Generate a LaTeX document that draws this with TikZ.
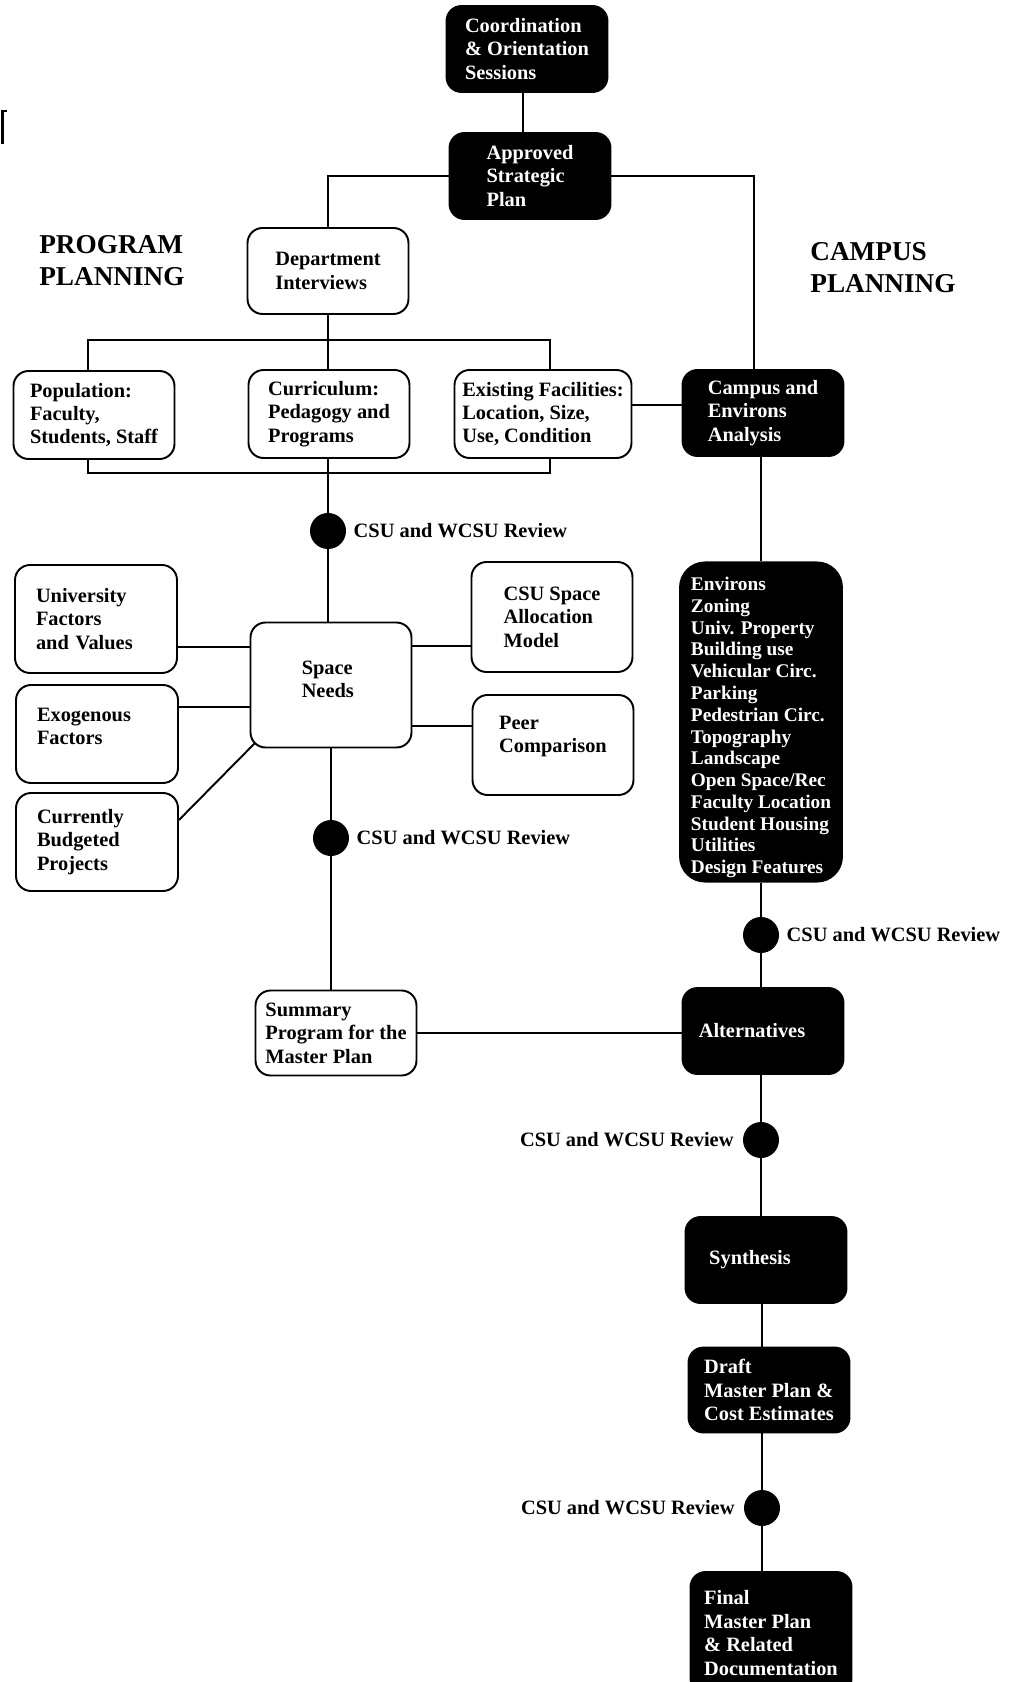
\documentclass[tikz,border=0pt]{standalone}
\usepackage{fontspec}
\setmainfont{Liberation Serif}
\usepackage{tikz}
\usetikzlibrary{positioning, calc}
\definecolor{InkBlack}{HTML}{000000}
\newcommand{\boxfont}{\fontsize{11.6pt}{13.3pt}\selectfont\bfseries}
\newcommand{\listfont}{\fontsize{11pt}{12.4pt}\selectfont\bfseries}
\newcommand{\headfont}{\fontsize{15.5pt}{18.2pt}\selectfont\bfseries}
\tikzset{
  darkbox/.style={rectangle, rounded corners=0.3cm, draw=InkBlack, fill=InkBlack, text=white, line width=1.1pt, minimum width=3.22cm, minimum height=1.72cm, font=\boxfont, align=left, inner sep=2pt},
  lightbox/.style={rectangle, rounded corners=0.3cm, draw=InkBlack, fill=white, line width=1.1pt, minimum width=3.22cm, minimum height=1.72cm, font=\boxfont, align=left, inner sep=2pt},
  sidebox/.style={lightbox, text width=2.4cm, inner xsep=0.42cm},
  listbox/.style={darkbox, rounded corners=0.5cm, minimum width=3.24cm, minimum height=6.38cm, font=\listfont},
  reviewdot/.style={circle, fill=InkBlack, minimum size=0.72cm, inner sep=0pt},
  reviewlabel/.style={font=\boxfont, inner sep=1pt},
  headlabel/.style={font=\headfont, align=left, anchor=west, inner sep=0pt},
  connector/.style={draw=InkBlack, line width=1.1pt}
}

\begin{document}
\begin{tikzpicture}[x=0.02cm, y=-0.02cm]
  \useasboundingbox (0,0) rectangle (1021,1682);
  \clip (0,0) rectangle (1021,1682);

  % stray mark at the left edge
  \fill[InkBlack] (1,110) rectangle (4,144);
  \fill[InkBlack] (1,110) rectangle (7,112);

  % headings
  \node[headlabel] (proghead) at (39,261) {PROGRAM\\PLANNING};
  \node[headlabel] (camphead) at (810,268) {CAMPUS\\PLANNING};

  % top
  \node[darkbox] (coord) at (527,49) {Coordination\\\& Orientation\\Sessions};
  \node[darkbox] (approved) at (530,176) {Approved\\Strategic\\Plan};

  % program planning
  \node[lightbox] (dept) at (328,271) {Department\\Interviews};
  \node[lightbox, minimum height=1.76cm] (pop) at (94,415) {Population:\\Faculty,\\Students, Staff};
  \node[lightbox, minimum height=1.76cm] (curr) at (329,414) {Curriculum:\\Pedagogy and\\Programs};
  \node[lightbox, minimum width=3.54cm, minimum height=1.76cm] (exist) at (543,414) {Existing Facilities:\\Location, Size,\\Use, Condition};

  \node[reviewdot] (dot1) at (328,531) {};
  \node[reviewlabel, right=3pt of dot1] (rev1) {CSU and WCSU Review};

  \node[lightbox, minimum height=2.5cm] (sn) at (331,685) {Space\hspace*{0.15cm}\\Needs\\[-11pt]\strut};
  \node[sidebox, minimum height=2.16cm] (univ) at (96,619) {University\\Factors\\and Values};
  \node[sidebox, minimum height=1.96cm] (exo) at (97,734) {Exogenous\\Factors\\[-8.8pt]\strut};
  \node[sidebox, minimum height=1.96cm] (budget) at (97,842) {Currently\\Budgeted\\Projects};
  \node[lightbox, minimum height=2.2cm] (csu) at (552,617) {CSU Space\\Allocation\\Model};
  \node[lightbox, minimum height=2.0cm] (peer) at (553,745) {Peer\\Comparison\\[-5pt]\strut};

  \node[reviewdot] (dot2) at (331,838) {};
  \node[reviewlabel, right=3pt of dot2] (rev2) {CSU and WCSU Review};

  \node[lightbox, minimum height=1.7cm] (summary) at (336,1033) {Summary\\Program for the\\Master Plan};

  % campus planning
  \node[darkbox] (campus) at (763,413) {Campus and\\Environs\\Analysis};
  \node[listbox] (environs) at (761,722) {\rule{0pt}{14pt}Environs\\Zoning\\Univ. Property\\Building use\\Vehicular Circ.\\Parking\\Pedestrian Circ.\\Topography\\Landscape\\Open Space/Rec\\Faculty Location\\Student Housing\\Utilities\\Design Features};

  \node[reviewdot] (dot3) at (761,935) {};
  \node[reviewlabel, right=3pt of dot3] (rev3) {CSU and WCSU Review};

  \node[darkbox] (alt) at (763,1031) {Alternatives\hspace*{0.44cm}};

  \node[reviewdot] (dot4) at (761,1140) {};
  \node[reviewlabel, left=4pt of dot4] (rev4) {CSU and WCSU Review};

  \node[darkbox] (synth) at (766,1260) {Synthesis\hspace*{0.64cm}};
  \node[darkbox, minimum height=1.7cm] (draft) at (769,1390) {Draft\\Master Plan \&\\Cost Estimates};

  \node[reviewdot] (dot5) at (762,1508) {};
  \node[reviewlabel, left=4pt of dot5] (rev5) {CSU and WCSU Review};

  \node[darkbox, minimum height=2.44cm] (final) at (771,1633) {Final\\Master Plan\\\& Related\\Documentation};

  % connectors
  \draw[connector] ($(coord.south)+(-4,0)$) -- ($(coord.south |- approved.north)+(-4,0)$);
  \draw[connector] (approved.west) -| (dept.north);
  \draw[connector] (approved.east) -| ($(campus.north)+(-9,0)$);
  \draw[connector] (dept.south) -- (dept.south |- curr.north);
  \draw[connector] ($(pop.north)+(-6,0)$) -- ++(0,-30) -| ($(exist.north)+(7,0)$);
  \draw[connector] ($(pop.south)+(-6,0)$) -- ++(0,13) -| ($(exist.south)+(7,0)$);
  \draw[connector] (exist.east) ++(0,-9) coordinate (existpt) -- (existpt -| campus.west);
  \draw[connector] (curr.south -| dot1) -- (dot1) -- (dot1 |- sn.north);
  \draw[connector] (univ.east) ++(0,28) coordinate (univpt) -- (univpt -| sn.west);
  \draw[connector] (exo.east) ++(0,-27) coordinate (exopt) -- (exopt -| sn.west);
  \draw[connector] (budget.east) ++(0,-22) -- ($(sn.south west)+(5,-5)$);
  \draw[connector] (csu.west) ++(0,29) coordinate (csupt) -- (csupt -| sn.east);
  \draw[connector] (peer.west) ++(0,-19) coordinate (peerpt) -- (peerpt -| sn.east);
  \draw[connector] (sn.south -| dot2) -- (dot2) -- (dot2 |- summary.north);
  \draw[connector] (summary.east) -- (summary.east -| alt.west);
  \draw[connector] (campus.south -| dot3) -- (dot3 |- environs.north);
  \draw[connector] (environs.south -| dot3) -- (dot3) -- (dot3 |- alt.north);
  \draw[connector] (alt.south -| dot4) -- (dot4) -- (dot4 |- synth.north);
  \draw[connector] (synth.south -| dot5) -- (dot5 |- draft.north);
  \draw[connector] (draft.south -| dot5) -- (dot5) -- (dot5 |- final.north);
\end{tikzpicture}
\end{document}
